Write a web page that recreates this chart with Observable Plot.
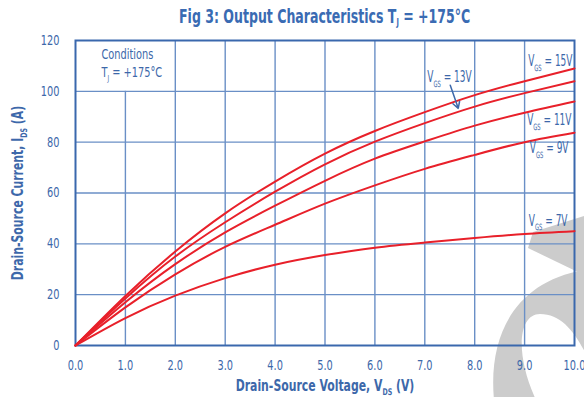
<!DOCTYPE html>
<html>
<head>
<meta charset="utf-8">
<script src="https://cdn.jsdelivr.net/npm/d3@7"></script>
<script src="https://cdn.jsdelivr.net/npm/@observablehq/plot@0.6"></script>
<style>
  html, body { margin: 0; padding: 0; background: #fff; }
  #page { position: relative; width: 584px; height: 397px; overflow: hidden; }
  #wm { position: absolute; left: 0; top: 0; z-index: 0; }
  #chart { position: absolute; left: 0; top: 0; z-index: 1; width: 584px; }
  #title { height: 32px; box-sizing: border-box; padding: 5px 10px 0 75px; text-align: center;
    font: bold 19px "DejaVu Sans", sans-serif; color: #3a6bb3; white-space: nowrap; }
  #title span { display: inline-block; transform: scaleX(0.66); transform-origin: center; }
  #title sub { font-size: 10px; vertical-align: -3px; }
</style>
</head>
<body>
<div id="page">
  <svg id="wm" width="584" height="397">
    <path d="M 528 248 L 533 232 L 584 216 L 600 212 L 600 282 L 584 275 Z" fill="#cccccc"/>
    <path d="M 494 400 C 488 335, 515 282, 584 270 L 600 270 L 600 385 C 585 350, 570 314, 540 314 C 518 314, 515 355, 536 400 Z" fill="#cccccc"/>
  </svg>
  <div id="chart">
    <div id="title"><span>Fig 3: Output Characteristics T<sub>J</sub> = +175°C</span></div>
  </div>
</div>
<script>
// ---- data ----
const vds = [0, 1, 2, 3, 4, 5, 6, 7, 8, 9, 10];
const id15 = [0, 19.5, 37, 52, 64.5, 75.5, 84.4, 91.8, 98.5, 104, 109];
const id13 = [0, 18.5, 35, 48.5, 60.5, 71.3, 80.2, 87.5, 94, 99.3, 104];
const id11 = [0, 17, 32, 44.5, 55, 64.8, 73.5, 80.3, 86.5, 91.6, 96];
const id9 = [0, 15, 28, 38.8, 47.5, 55.8, 63, 69.5, 75, 80, 83.7];
const id7 = [0, 10.8, 19.6, 26.5, 31.8, 35.6, 38.5, 40.5, 42.3, 43.9, 45];
const seriesNames = ["15V", "13V", "11V", "9V", "7V"];
const xTicks = [0, 1, 2, 3, 4, 5, 6, 7, 8, 9, 10];
const yTicks = [0, 20, 40, 60, 80, 100, 120];
const curveLabels = ["V_{GS} = 15V", "V_{GS} = 13V", "V_{GS} = 11V", "V_{GS} = 9V", "V_{GS} = 7V"];
const labelX = [9.96, 7.05, 9.94, 9.88, 9.86];
const labelY = [111.7, 105.4, 88.5, 77.5, 48.8];
const arrowFrom = [7.51, 102.4];
const arrowTo = [7.67, 93.3];
const conditionLines = ["Conditions", "T_{J} = +175°C"];
const conditionX = 0.52;
const conditionY = [114.5, 107.5];
const xLabel = "Drain-Source Voltage, V_{DS} (V)";
const yLabel = "Drain-Source Current, I_{DS} (A)";

// ---- build tables ----
const allSeries = [id15, id13, id11, id9, id7];
const rows = [];
allSeries.forEach((arr, k) => arr.forEach((v, i) => rows.push({s: seriesNames[k], x: vds[i], y: v})));
const labels = curveLabels.map((t, i) => ({t, x: labelX[i], y: labelY[i], start: i === 1}));
const conds = conditionLines.map((t, i) => ({t, x: conditionX, y: conditionY[i]}));

const blue = "#3d68aa";
const gridColor = "#6a8fc6";
const font = '"DejaVu Sans", sans-serif';

const chart = Plot.plot({
  width: 584,
  height: 365,
  marginTop: 8,
  marginLeft: 75,
  marginRight: 10,
  marginBottom: 52,
  style: {background: "transparent", color: blue, fontFamily: font, fontSize: "14px"},
  x: {domain: [0, 10]},
  y: {domain: [0, 120]},
  marks: [
    Plot.ruleX(xTicks.filter(d => d > 1 && d < 10), {stroke: gridColor, strokeWidth: 1.4}),
    Plot.ruleX([1], {y1: 0, y2: 100, stroke: gridColor, strokeWidth: 1.4}),
    Plot.ruleY(yTicks.filter(d => d > 0 && d < 120), {stroke: gridColor, strokeWidth: 1.4}),
    Plot.frame({stroke: "#3a68ad", strokeWidth: 2}),
    Plot.line(rows, {x: "x", y: "y", z: "s", stroke: "#e8202a", strokeWidth: 2, curve: "natural"}),
    Plot.axisX({ticks: xTicks, tickSize: 0, tickPadding: 15, tickFormat: d => d.toFixed(1), label: null, fontSize: 14}),
    Plot.axisY({ticks: yTicks, tickSize: 0, tickPadding: 16, label: null, fontSize: 14}),
    Plot.text(labels.filter(d => !d.start), {x: "x", y: "y", text: "t", textAnchor: "end", fill: blue, fontSize: 15}),
    Plot.text(labels.filter(d => d.start), {x: "x", y: "y", text: "t", textAnchor: "start", fill: blue, fontSize: 15}),
    Plot.arrow([0], {x1: arrowFrom[0], y1: arrowFrom[1], x2: arrowTo[0], y2: arrowTo[1], stroke: blue, strokeWidth: 1.5, headLength: 7, bend: 0}),
    Plot.text(conds, {x: "x", y: "y", text: "t", textAnchor: "start", fill: blue, fontSize: 14}),
    Plot.text([xLabel], {frameAnchor: "bottom", textAnchor: "middle", lineAnchor: "middle", dy: 40, fill: blue, fontSize: 16, fontWeight: "bold"}),
    Plot.text([yLabel], {frameAnchor: "left", textAnchor: "middle", lineAnchor: "middle", dx: -58, rotate: -90, fill: blue, fontSize: 16, fontWeight: "bold"})
  ]
});
document.getElementById("chart").appendChild(chart);

// convert "_{...}" in text into subscripts
function subify(svg) {
  const els = Array.from(svg.querySelectorAll("text, tspan"));
  for (const el of els) {
    if (el.childNodes.length !== 1 || el.firstChild.nodeType !== 3) continue;
    const s = el.textContent;
    if (!s.includes("_{")) continue;
    const fs = parseFloat(getComputedStyle(el).fontSize) || 14;
    const shift = fs * 0.28;
    el.textContent = "";
    const re = /_\{([^}]*)\}/g;
    let last = 0, m, pending = 0;
    const ns = "http://www.w3.org/2000/svg";
    while ((m = re.exec(s))) {
      const pre = s.slice(last, m.index);
      if (pre) {
        const t = document.createElementNS(ns, "tspan");
        if (pending) t.setAttribute("dy", -pending);
        pending = 0;
        t.textContent = pre;
        el.appendChild(t);
      }
      const sub = document.createElementNS(ns, "tspan");
      sub.setAttribute("dy", shift);
      sub.setAttribute("font-size", fs * 0.58);
      sub.textContent = m[1];
      el.appendChild(sub);
      pending = shift;
      last = re.lastIndex;
    }
    const rest = s.slice(last);
    if (rest) {
      const t = document.createElementNS(ns, "tspan");
      if (pending) t.setAttribute("dy", -pending);
      t.textContent = rest;
      el.appendChild(t);
    }
  }
}
subify(chart);

// condense text horizontally around its anchor point (reference uses a condensed face)
function condense(svg) {
  const factor = {14: 0.7, 15: 0.6, 16: 0.68};
  for (const el of svg.querySelectorAll("text")) {
    const fs = Math.round(parseFloat(getComputedStyle(el).fontSize));
    const k = factor[fs] || 0.7;
    const x = parseFloat(el.getAttribute("x")) || 0;
    const y = parseFloat(el.getAttribute("y")) || 0;
    const tr = el.getAttribute("transform") || "";
    el.setAttribute("transform", `${tr} translate(${x},${y}) scale(${k},1) translate(${-x},${-y})`);
  }
}
condense(chart);
</script>
</body>
</html>
